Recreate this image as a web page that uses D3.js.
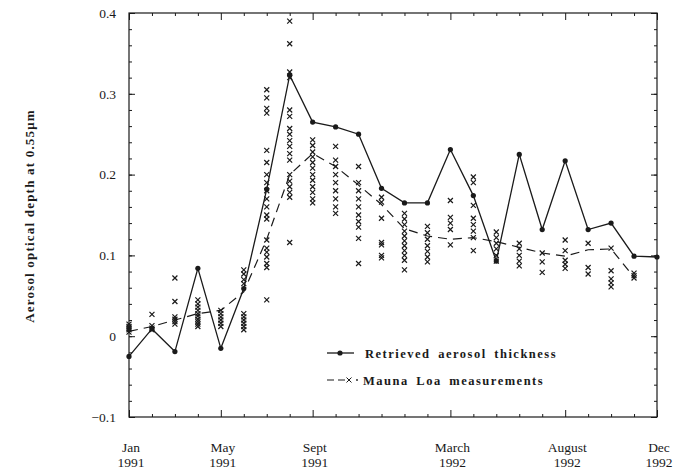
<!DOCTYPE html>
<html>
<head>
<meta charset="utf-8">
<script src="https://cdn.jsdelivr.net/npm/d3@7"></script>
<style>
  body { margin: 0; background: #fff; }
  svg text { font-family: "Liberation Serif", "Times New Roman", serif; fill: #1a1a1a; }
</style>
</head>
<body>
<svg id="chart" width="684" height="471"></svg>
<script>
// month index 0 = Jan 1991 ... 23 = Dec 1992
const months = d3.range(24);
const majorMonths = [0, 4, 8, 14, 19, 23];
const monthLabels = ['Jan', 'May', 'Sept', 'March', 'August', 'Dec'];
const yearLabels = ['1991', '1991', '1991', '1992', '1992', '1992'];
const yTicks = [-0.1, 0, 0.1, 0.2, 0.3, 0.4];
const yMinorTicks = d3.range(-0.1, 0.401, 0.02);

// retrieved aerosol thickness, one value per month
const retrieved = [
  -0.025, 0.009, -0.019, 0.084, -0.015, 0.059, 0.182, 0.323,
  0.265, 0.259, 0.25, 0.183, 0.165, 0.165, 0.231, 0.174,
  0.093, 0.225, 0.132, 0.217, 0.132, 0.14, 0.099, 0.098,
];

// Mauna Loa monthly mean (dashed line), Jan 1991 .. Nov 1992
const maunaLoaMean = [
  0.006, 0.012, 0.02, 0.028, 0.032, 0.055, 0.12, 0.2,
  0.226, 0.21, 0.187, 0.163, 0.133, 0.124, 0.12, 0.122,
  0.117, 0.11, 0.103, 0.099, 0.107, 0.108, 0.073,
];

// individual Mauna Loa measurements per month
const maunaLoaObs = [
  [0.005, 0.008, 0.01, 0.012, 0.015],
  [0.027, 0.013, 0.01, 0.008],
  [0.072, 0.043, 0.024, 0.021, 0.018, 0.015],
  [0.045, 0.04, 0.036, 0.032, 0.028, 0.025, 0.021, 0.018, 0.015, 0.012],
  [0.032, 0.028, 0.024, 0.02, 0.016, 0.012],
  [0.082, 0.077, 0.07, 0.065, 0.028, 0.024, 0.02, 0.016, 0.012, 0.008],
  [0.305, 0.295, 0.282, 0.276, 0.23, 0.215, 0.2, 0.19, 0.18, 0.17, 0.16, 0.15,
    0.145, 0.119, 0.109, 0.104, 0.098, 0.09, 0.085, 0.045],
  [0.39, 0.362, 0.327, 0.32, 0.28, 0.272, 0.257, 0.25, 0.242, 0.235, 0.226,
    0.218, 0.2, 0.192, 0.185, 0.178, 0.172, 0.116],
  [0.243, 0.236, 0.228, 0.222, 0.215, 0.208, 0.2, 0.193, 0.185, 0.178, 0.17, 0.165],
  [0.235, 0.218, 0.21, 0.2, 0.19, 0.18, 0.17, 0.16, 0.152],
  [0.21, 0.19, 0.18, 0.17, 0.16, 0.15, 0.142, 0.135, 0.121, 0.09],
  [0.172, 0.166, 0.146, 0.116, 0.113, 0.1, 0.097],
  [0.152, 0.145, 0.138, 0.13, 0.124, 0.118, 0.112, 0.106, 0.1, 0.094, 0.082],
  [0.136, 0.128, 0.12, 0.112, 0.105, 0.098, 0.092],
  [0.168, 0.147, 0.14, 0.132, 0.113],
  [0.197, 0.19, 0.162, 0.146, 0.138, 0.13, 0.122, 0.106],
  [0.129, 0.122, 0.115, 0.108, 0.1, 0.093],
  [0.115, 0.108, 0.1, 0.093, 0.087],
  [0.103, 0.092, 0.079],
  [0.119, 0.106, 0.094, 0.089, 0.084],
  [0.115, 0.085, 0.077],
  [0.109, 0.081, 0.071, 0.066, 0.061],
  [0.078, 0.075, 0.072],
];

const margin = { top: 13, right: 27, bottom: 54, left: 129 };
const width = 684 - margin.left - margin.right;
const height = 471 - margin.top - margin.bottom;

const svg = d3.select('#chart');
const g = svg.append('g').attr('transform', `translate(${margin.left},${margin.top})`);

const x = d3.scaleLinear().domain([0, 23]).range([0, width]);
const y = d3.scaleLinear().domain([-0.1, 0.4]).range([height, 0]);

const ink = '#1a1a1a';

// frame + inward ticks on all four sides
function styleAxis(sel) {
  sel.select('.domain').remove();
  sel.selectAll('line').attr('stroke', ink).attr('stroke-width', 1);
}

const minorMonths = months.filter((m) => !majorMonths.includes(m));
g.append('g').attr('transform', `translate(0,${height})`)
  .call(d3.axisBottom(x).tickValues(minorMonths).tickSize(-3).tickFormat(''))
  .call(styleAxis);
g.append('g').attr('transform', `translate(0,${height})`)
  .call(d3.axisBottom(x).tickValues(majorMonths).tickSize(-7).tickFormat(''))
  .call(styleAxis);
g.append('g')
  .call(d3.axisTop(x).tickValues(minorMonths).tickSize(-3).tickFormat(''))
  .call(styleAxis);
g.append('g')
  .call(d3.axisTop(x).tickValues(majorMonths).tickSize(-7).tickFormat(''))
  .call(styleAxis);

g.append('g')
  .call(d3.axisLeft(y).tickValues(yMinorTicks).tickSize(-3).tickFormat(''))
  .call(styleAxis);
g.append('g')
  .call(d3.axisLeft(y).tickValues(yTicks).tickSize(-6).tickPadding(13)
    .tickFormat((d) => (Math.abs(d) < 1e-9 ? '0' : d3.format('.1f')(d))))
  .call(styleAxis)
  .call((s) => s.selectAll('text').attr('font-size', 13.5).attr('font-family', null));
g.append('g').attr('transform', `translate(${width},0)`)
  .call(d3.axisRight(y).tickValues(yMinorTicks).tickSize(-3).tickFormat(''))
  .call(styleAxis);
g.append('g').attr('transform', `translate(${width},0)`)
  .call(d3.axisRight(y).tickValues(yTicks).tickSize(-6).tickFormat(''))
  .call(styleAxis);

g.append('rect')
  .attr('width', width).attr('height', height)
  .attr('fill', 'none').attr('stroke', ink).attr('stroke-width', 1.2);

// two-line month labels
const xl = g.append('g').attr('font-size', 13.5).attr('text-anchor', 'middle');
majorMonths.forEach((m, i) => {
  const t = xl.append('text').attr('x', x(m) + 2).attr('y', height + 35);
  t.append('tspan').attr('x', x(m) + 2).text(monthLabels[i]);
  t.append('tspan').attr('x', x(m) + 2).attr('dy', 15).text(yearLabels[i]);
});

// y axis title
svg.append('text')
  .attr('transform', 'translate(34,216) rotate(-90)')
  .attr('text-anchor', 'middle')
  .attr('font-size', 13)
  .attr('font-weight', 'bold')
  .attr('letter-spacing', 1.2)
  .text('Aerosol optical depth at 0.55μm');

// individual measurements
const obs = maunaLoaObs.flatMap((vals, m) => vals.map((v) => ({ m, v })));
const cross = d3.symbol(d3.symbolX, 18);
g.append('g').selectAll('path')
  .data(obs)
  .join('path')
  .attr('d', cross)
  .attr('transform', (d) => `translate(${x(d.m)},${y(d.v)})`)
  .attr('fill', 'none')
  .attr('stroke', ink)
  .attr('stroke-width', 1.2);

// Mauna Loa mean (dashed)
const line = d3.line().x((d, i) => x(i)).y((d) => y(d));
g.append('path')
  .datum(maunaLoaMean)
  .attr('d', line)
  .attr('fill', 'none')
  .attr('stroke', ink)
  .attr('stroke-width', 1.2)
  .attr('stroke-dasharray', '9,6');

// retrieved (solid with dots)
g.append('path')
  .datum(retrieved)
  .attr('d', line)
  .attr('fill', 'none')
  .attr('stroke', ink)
  .attr('stroke-width', 1.3);
g.append('g').selectAll('circle')
  .data(retrieved)
  .join('circle')
  .attr('cx', (d, i) => x(i))
  .attr('cy', (d) => y(d))
  .attr('r', 2.6)
  .attr('fill', ink);

// legend
const legend = svg.append('g').attr('transform', 'translate(327,353)');
legend.append('line').attr('x1', 0).attr('x2', 27).attr('stroke', ink).attr('stroke-width', 1.3);
legend.append('circle').attr('cx', 13).attr('r', 2.6).attr('fill', ink);
legend.append('text').attr('x', 38).attr('y', 4.5)
  .attr('font-size', 12.5).attr('font-weight', 'bold').attr('letter-spacing', 1.5)
  .attr('word-spacing', 3)
  .text('Retrieved aerosol thickness');

const l2 = legend.append('g').attr('transform', 'translate(0,27)');
l2.append('line').attr('x1', 0).attr('x2', 18).attr('stroke', ink).attr('stroke-width', 1.2)
  .attr('stroke-dasharray', '7,4');
l2.append('path').attr('d', cross).attr('transform', 'translate(22,0)')
  .attr('fill', 'none').attr('stroke', ink);
l2.append('circle').attr('cx', 30).attr('r', 0.9).attr('fill', ink);
l2.append('text').attr('x', 36).attr('y', 4.5)
  .attr('font-size', 12.5).attr('font-weight', 'bold').attr('letter-spacing', 1.5)
  .attr('word-spacing', 3)
  .text('Mauna Loa measurements');
</script>
</body>
</html>
